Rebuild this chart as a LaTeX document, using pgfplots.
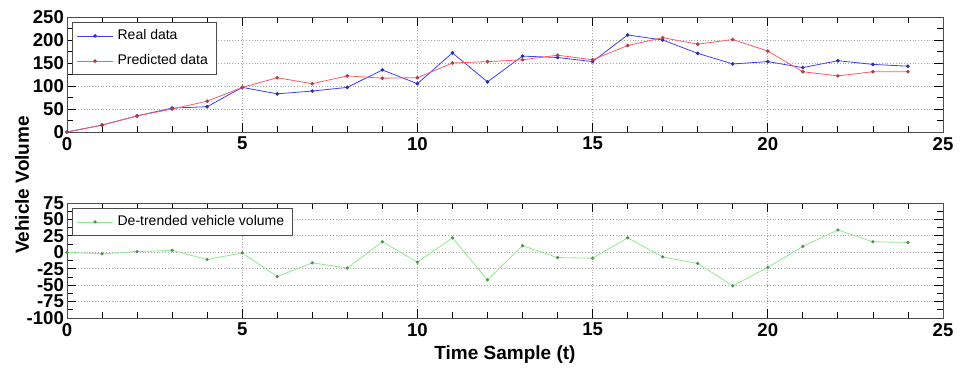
\documentclass[border=0pt]{standalone}
\usepackage{pgfplots}
\pgfplotsset{compat=1.18}
\usepackage{fontspec}
\setmainfont{Liberation Sans}
\definecolor{realblue}{rgb}{0.25,0.25,0.95}
\definecolor{predred}{rgb}{1.0,0.35,0.4}
\definecolor{detgreen}{rgb}{0.55,0.92,0.55}
\pgfplotsset{
  mystyle/.style={
    scale only axis,
    width=438pt,
    xmin=0, xmax=25,
    xtick={0,5,10,15,20,25},
    minor x tick num=4,
    grid=major,
    major grid style={densely dotted, gray!70},
    tick style={black, thin},
    axis line style={black!70, thin},
    tick label style={font=\fontsize{9.3}{10}\selectfont\bfseries},
    /pgf/number format/assume math mode=true,
    legend style={font=\fontsize{7}{8}\selectfont, draw=black!70, inner xsep=2pt, inner ysep=1.5pt, row sep=2pt, legend cell align=left,
      at={(0,1)}, anchor=north west, xshift=2.5pt, yshift=-2.5pt},
    legend image code/.code={\draw[mark repeat=2,mark phase=2,##1] plot coordinates {(0cm,0cm) (0.32cm,0cm) (0.64cm,0cm)};},
    yticklabel style={xshift=2pt},
    xticklabel style={yshift=1pt},
  }
}
\begin{document}
\begin{tikzpicture}
\path (0,0) rectangle (485.5pt,-185.5pt);
\begin{axis}[mystyle,
  at={(33.5pt,-8.5pt)}, anchor=north west,
  height=57.5pt,
  ymin=0, ymax=250, ytick={0,50,100,150,200,250},
  minor y tick num=1,
]
\addplot[color=realblue, thin, mark=*, mark size=0.7pt, mark options={fill=realblue!70!black, draw=realblue!70!black}] coordinates {
(0,0) (1,15) (2,35) (3,52) (4,55) (5,97) (6,83) (7,89) (8,97) (9,135) (10,105) (11,172) (12,109) (13,165) (14,162) (15,153) (16,211) (17,200) (18,171) (19,148) (20,153) (21,140) (22,155) (23,147) (24,143)};
\addlegendentry{Real data}
\addplot[color=predred, thin, mark=*, mark size=0.7pt, mark options={fill=predred!70!black, draw=predred!70!black}] coordinates {
(0,0) (1,15) (2,35) (3,50) (4,67) (5,97) (6,118) (7,105) (8,122) (9,117) (10,118) (11,150) (12,153) (13,157) (14,167) (15,157) (16,188) (17,205) (18,191) (19,201) (20,176) (21,131) (22,122) (23,131) (24,131)};
\addlegendentry{Predicted data}
\end{axis}
\begin{axis}[mystyle,
  at={(33.5pt,-101.5pt)}, anchor=north west,
  height=57.5pt,
  ymin=-100, ymax=75, ytick={-100,-75,-50,-25,0,25,50,75},
  minor y tick num=1,
  xlabel={Time Sample (t)},
  xlabel style={font=\fontsize{9.5}{10}\selectfont\bfseries, yshift=2pt},
]
\addplot[color=detgreen, thin, mark=*, mark size=0.6pt, mark options={fill=detgreen!60!black, draw=detgreen!60!black}] coordinates {
(0,0) (1,-2.5) (2,1) (3,3) (4,-11) (5,-1) (6,-37) (7,-16) (8,-24) (9,16) (10,-15) (11,22) (12,-42) (13,10) (14,-8) (15,-9) (16,22) (17,-7) (18,-17) (19,-51) (20,-23) (21,9) (22,34) (23,16) (24,15)};
\addlegendentry{De-trended vehicle volume}
\end{axis}
\node[rotate=90, font=\fontsize{9.5}{10}\selectfont\bfseries] at (11pt,-92.5pt) {Vehicle Volume};
\end{tikzpicture}
\end{document}
